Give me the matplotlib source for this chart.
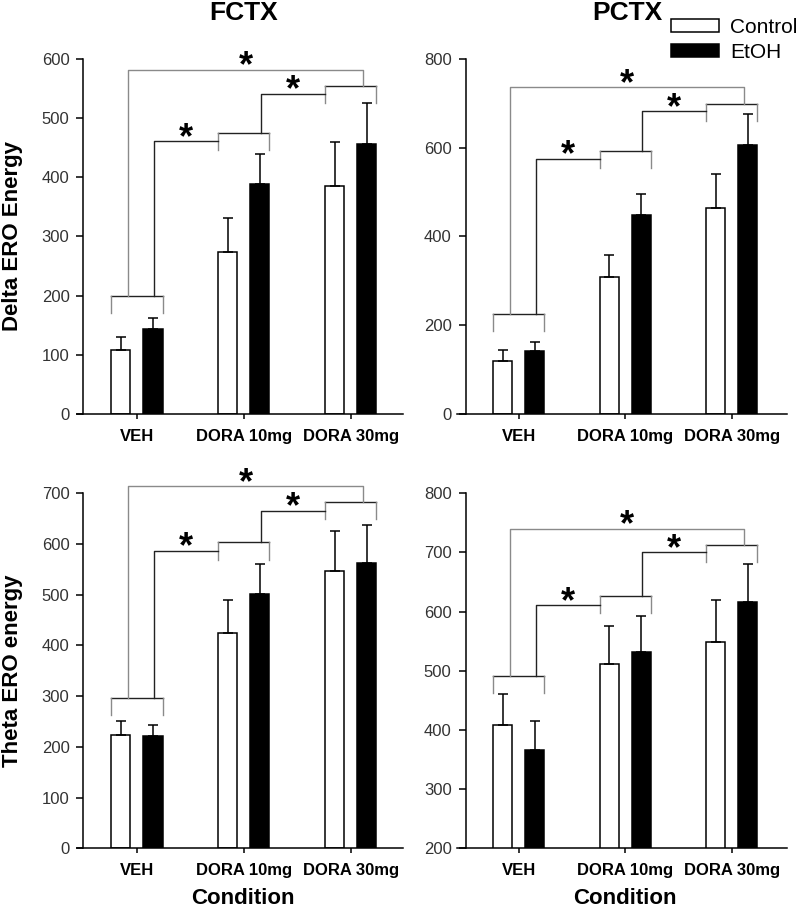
import matplotlib
matplotlib.use('Agg')
import matplotlib.pyplot as plt
from matplotlib.patches import Patch

plt.rcParams['font.family'] = ['Liberation Sans', 'DejaVu Sans']

# data
categories = ['VEH', 'DORA 10mg', 'DORA 30mg']

delta_fctx_ctrl = [108, 273, 386]
delta_fctx_ctrl_err = [22, 59, 73]
delta_fctx_etoh = [143, 388, 457]
delta_fctx_etoh_err = [20, 52, 69]

delta_pctx_ctrl = [120, 308, 465]
delta_pctx_ctrl_err = [24, 51, 76]
delta_pctx_etoh = [142, 449, 607]
delta_pctx_etoh_err = [21, 46, 70]

theta_fctx_ctrl = [223, 425, 546]
theta_fctx_ctrl_err = [28, 65, 80]
theta_fctx_etoh = [221, 501, 562]
theta_fctx_etoh_err = [22, 60, 76]

theta_pctx_ctrl = [408, 511, 549]
theta_pctx_ctrl_err = [53, 65, 71]
theta_pctx_etoh = [366, 532, 617]
theta_pctx_etoh_err = [49, 61, 64]

# significance bracket heights: VEH, D10, D30, VEH->D10, D10->D30, VEH->D30
sig_delta_fctx = [200, 475, 555, 461, 541, 582]
sig_delta_pctx = [226, 593, 698, 575, 682, 736]
sig_theta_fctx = [296, 603, 682, 587, 666, 714]
sig_theta_pctx = [492, 627, 712, 611, 700, 740]

W, H = 800, 911
fig = plt.figure(figsize=(W / 100, H / 100), dpi=100)

DARK = '#222222'
GRAY = '#8a8a8a'


def add_ax(left, top, right, bottom):
    return fig.add_axes([left / W, 1 - bottom / H, (right - left) / W, (bottom - top) / H])


def draw_panel(ax, ctrl, ctrl_err, etoh, etoh_err, sig, ylim, yticks, xlim):
    x = range(len(categories))
    w = 0.18
    off = 0.15
    xc = [i - off for i in x]
    xe = [i + off for i in x]
    ax.bar(xc, ctrl, width=w, color='white', edgecolor='black', linewidth=1.1, zorder=2)
    ax.bar(xe, etoh, width=w, color='black', edgecolor='black', linewidth=1.1, zorder=2)
    ax.errorbar(xc, ctrl, yerr=[[0] * 3, ctrl_err], fmt='none', ecolor='black',
                elinewidth=1.1, capsize=3.5, capthick=1.1, zorder=3)
    ax.errorbar(xe, etoh, yerr=[[0] * 3, etoh_err], fmt='none', ecolor='black',
                elinewidth=1.1, capsize=3.5, capthick=1.1, zorder=1)

    ax.set_xlim(*xlim)
    ax.set_ylim(*ylim)
    ax.set_yticks(yticks)
    ax.set_xticks(list(x))
    ax.set_xticklabels(categories, fontweight='bold', fontsize=12)
    ax.tick_params(axis='y', direction='out', length=5, width=1.1, pad=5,
                   labelsize=12, labelcolor='#333333')
    ax.tick_params(axis='x', direction='out', length=3.5, width=1.1, pad=7)
    for s in ['top', 'right']:
        ax.spines[s].set_visible(False)
    ax.spines['left'].set_position(('data', -0.5))
    ax.spines['left'].set_linewidth(1.1)
    ax.spines['bottom'].set_linewidth(1.1)

    # brackets
    veh, d10, d30, c1, c2, top = sig
    leg = 0.048 * (ylim[1] - ylim[0])
    for i, t in enumerate([veh, d10, d30]):
        ax.plot([i - 0.24, i + 0.24], [t, t], color=DARK, lw=1, clip_on=False)
        ax.plot([i - 0.24, i - 0.24], [t, t - leg], color=GRAY, lw=1, clip_on=False)
        ax.plot([i + 0.24, i + 0.24], [t, t - leg], color=GRAY, lw=1, clip_on=False)
    ax.plot([0.16, 0.16, 0.76], [veh, c1, c1], color=DARK, lw=1, clip_on=False)
    ax.plot([1.16, 1.16, 1.76], [d10, c2, c2], color=DARK, lw=1, clip_on=False)
    ax.plot([-0.08, -0.08, 2.12, 2.12], [veh, top, top, d30], color=GRAY, lw=1, clip_on=False)
    for xs, ys in [(0.46, c1), (1.46, c2), (1.02, top)]:
        ax.annotate('*', xy=(xs, ys), xytext=(0, 2), textcoords='offset points',
                    ha='center', va='center', fontsize=26, fontweight='bold',
                    annotation_clip=False)


ax1 = add_ax(77, 59, 403, 414)
draw_panel(ax1, delta_fctx_ctrl, delta_fctx_ctrl_err, delta_fctx_etoh, delta_fctx_etoh_err,
           sig_delta_fctx, (0, 600), range(0, 601, 100), (-0.56, 2.49))

ax2 = add_ax(457, 59, 787, 414)
draw_panel(ax2, delta_pctx_ctrl, delta_pctx_ctrl_err, delta_pctx_etoh, delta_pctx_etoh_err,
           sig_delta_pctx, (0, 800), range(0, 801, 200), (-0.58, 2.52))

ax3 = add_ax(77, 493.3, 403, 848.3)
draw_panel(ax3, theta_fctx_ctrl, theta_fctx_ctrl_err, theta_fctx_etoh, theta_fctx_etoh_err,
           sig_theta_fctx, (0, 700), range(0, 701, 100), (-0.56, 2.49))

ax4 = add_ax(457, 493.3, 787, 848.3)
draw_panel(ax4, theta_pctx_ctrl, theta_pctx_ctrl_err, theta_pctx_etoh, theta_pctx_etoh_err,
           sig_theta_pctx, (200, 800), range(200, 801, 100), (-0.58, 2.52))

# titles and labels
fig.text(244 / W, 1 - 20 / H, 'FCTX', ha='center', va='baseline', fontsize=19, fontweight='bold')
fig.text(627 / W, 1 - 20 / H, 'PCTX', ha='center', va='baseline', fontsize=19, fontweight='bold')
fig.text(2 / W, 1 - 236 / H, 'Delta ERO Energy', rotation=90, ha='left', va='center',
         fontsize=16, fontweight='bold')
fig.text(2 / W, 1 - 671 / H, 'Theta ERO energy', rotation=90, ha='left', va='center',
         fontsize=16, fontweight='bold')
fig.text(243 / W, 1 - 904 / H, 'Condition', ha='center', va='baseline', fontsize=16, fontweight='bold')
fig.text(625 / W, 1 - 904 / H, 'Condition', ha='center', va='baseline', fontsize=16, fontweight='bold')

handles = [Patch(facecolor='white', edgecolor='black', linewidth=1.1, label='Control'),
           Patch(facecolor='black', edgecolor='black', linewidth=1.1, label='EtOH')]
fig.legend(handles=handles, loc='upper left', bbox_to_anchor=(671 / W, 1 - 18 / H),
           frameon=False, fontsize=15, borderpad=0, borderaxespad=0,
           handlelength=2.3, handleheight=0.58, handletextpad=0.55, labelspacing=0.3)

fig.savefig('out.png', dpi=100)
